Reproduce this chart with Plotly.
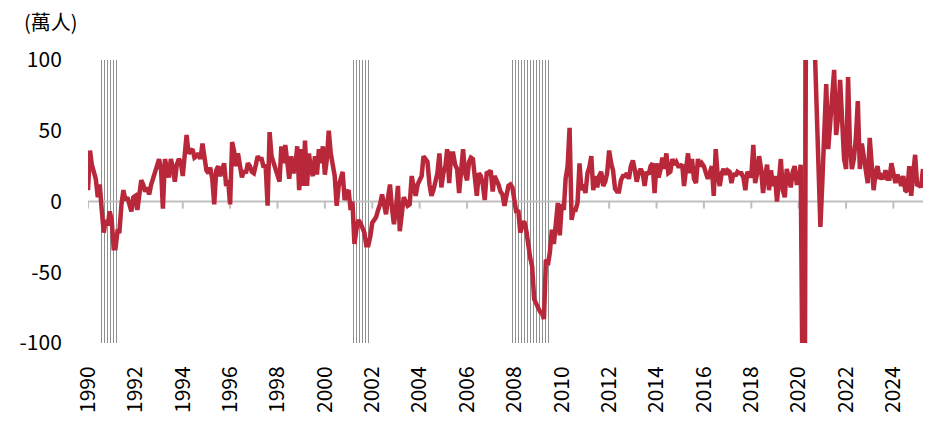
import pandas as pd
import plotly.graph_objects as go

# Monthly change (萬人), Jan 1990 - Apr 2025
v1990 = [8, 36, 26, 20, 16, 3, 12, -6, -22, -13, -17, -7]
v1991 = [-13, -33, -33, -21, -21, -2, 8, 1, 3, -2, -7, 3]
v1992 = [4, -6, 7, 15, 12, 7, 10, 5, 12, 17, 22, 25]
v1993 = [30, 22, -5, 30, 22, 17, 30, 24, 14, 26, 30, 28]
v1994 = [18, 30, 47, 34, 36, 37, 31, 32, 34, 30, 41, 33]
v1995 = [22, 20, 24, 16, -2, 22, 25, 18, 22, 27, 11, 15]
v1996 = [-2, 42, 36, 25, 34, 26, 17, 22, 20, 27, 25, 21]
v1997 = [20, 26, 32, 30, 30, 24, 26, -3, 49, 32, 28, 23]
v1998 = [18, 14, 39, 27, 40, 24, 16, 32, 20, 24, 39, 8]
v1999 = [37, 11, 43, 11, 34, 22, 18, 32, 19, 37, 27, 39]
v2000 = [19, 30, 50, 34, 25, 18, -3, 11, 16, 21, 1, 6]
v2001 = [8, -6, 0, -30, -20, -13, -15, -18, -22, -31, -31, -25]
v2002 = [-15, -13, -11, -6, -2, 5, -2, -9, 3, 12, -5, -16]
v2003 = [-5, 11, -21, -10, 3, 0, -3, -2, 18, 10, 4, 12]
v2004 = [15, 18, 32, 30, 28, 12, 4, 8, 13, 20, 34, 10]
v2005 = [20, 25, 37, 13, 34, 34, 26, 23, 6, 18, 37, 20]
v2006 = [15, 28, 31, 30, 14, 4, 20, 18, 12, 1, 21, 20]
v2007 = [22, 7, 18, 15, 12, 7, 5, -3, 6, 11, 12, 10]
v2008 = [1, -8, -6, -22, -17, -14, -20, -32, -40, -46, -69, -72]
v2009 = [-76, -78, -79, -83, -41, -45, -36, -20, -30, -17, -1, -24]
v2010 = [-2, -6, 16, 25, 52, -13, -6, -6, -1, 27, 8, 12]
v2011 = [6, 20, 24, 32, 8, 18, 10, 18, 21, 11, 14, 20]
v2012 = [36, 27, 22, 9, 7, 7, 15, 18, 18, 20, 16, 25]
v2013 = [29, 22, 14, 20, 23, 20, 11, 21, 19, 25, 27, 6]
v2014 = [27, 17, 22, 31, 23, 34, 20, 21, 30, 26, 28, 25]
v2015 = [25, 26, 11, 23, 34, 20, 30, 16, 13, 30, 25, 27]
v2016 = [25, 20, 16, 20, 25, 4, 37, 18, 11, 20, 23, 19]
v2017 = [22, 21, 13, 20, 18, 21, 20, 20, 17, 8, 21, 18]
v2018 = [18, 40, 13, 20, 32, 23, 6, 18, 26, 8, 22, 11]
v2019 = [18, 0, 19, 30, 8, 3, 23, 16, 10, 21, 25, 13]
v2020 = [13, 26, -137, -205, 270, 480, 170, 150, 115, 68, 26, -18]
v2021 = [15, 48, 83, 37, 55, 75, 93, 47, 60, 86, 50, 30]
v2022 = [23, 88, 40, 23, 30, 45, 71, 23, 41, 30, 20, 13]
v2023 = [45, 30, 8, 20, 25, 16, 18, 16, 22, 16, 16, 27]
v2024 = [20, 13, 19, 16, 11, 18, 8, 7, 25, 4, 20, 33]
v2025 = [11, 12, 10, 23]

# Recession periods (first and last month shaded)
recessions = [("1990-07", "1991-03"), ("2001-03", "2001-11"),
              ("2007-12", "2009-06"), ("2020-03", "2020-04")]

y_ticks = [-100, -50, 0, 50, 100]
y_ticktext = [str(v) for v in y_ticks]
x_tick_step = "24MS"   # every two years

values = (v1990 + v1991 + v1992 + v1993 + v1994 + v1995 + v1996 + v1997 + v1998 + v1999
          + v2000 + v2001 + v2002 + v2003 + v2004 + v2005 + v2006 + v2007 + v2008 + v2009
          + v2010 + v2011 + v2012 + v2013 + v2014 + v2015 + v2016 + v2017 + v2018 + v2019
          + v2020 + v2021 + v2022 + v2023 + v2024 + v2025)
dates = pd.date_range("1990-01-01", periods=len(values), freq="MS")
x_range = [dates[0], dates[-1]]
tick_dates = pd.date_range(dates[0], dates[-1], freq=x_tick_step)

ymin, ymax = y_ticks[0], y_ticks[-1]
rec_center, rec_width = [], []
for s, e in recessions:
    t0 = pd.Timestamp(s)
    t1 = pd.Timestamp(e) + pd.offsets.MonthBegin(1)
    rec_center.append(t0 + (t1 - t0) / 2)
    rec_width.append((t1 - t0).total_seconds() * 1000)

FONT = "Noto Sans CJK TC"
AXIS_GRAY = "#bfbfbf"

fig = go.Figure()
# recession shading (vertical hatch)
fig.add_trace(go.Bar(
    x=rec_center, y=[ymax - ymin] * len(rec_center), base=[ymin] * len(rec_center),
    width=rec_width,
    marker=dict(color="rgba(0,0,0,0)", line=dict(width=0),
                pattern=dict(shape="|", size=3, solidity=1 / 3,
                             fgcolor="#8f8f8f", bgcolor="rgba(0,0,0,0)",
                             fgopacity=1)),
    hoverinfo="skip", showlegend=False))
# zero axis line
fig.add_trace(go.Scatter(x=x_range, y=[0, 0], mode="lines",
                         line=dict(color=AXIS_GRAY, width=2),
                         hoverinfo="skip", showlegend=False))
# tick marks hanging below the zero axis
fig.add_trace(go.Scatter(x=tick_dates, y=[0] * len(tick_dates), mode="markers",
                         marker=dict(size=0.1, color=AXIS_GRAY),
                         error_y=dict(type="data", symmetric=False,
                                      array=[0] * len(tick_dates),
                                      arrayminus=[5] * len(tick_dates),
                                      color=AXIS_GRAY, thickness=2, width=0),
                         hoverinfo="skip", showlegend=False))
# data line
fig.add_trace(go.Scatter(x=dates, y=values, mode="lines",
                         line=dict(color="#B8283A", width=4.5),
                         showlegend=False))

fig.update_layout(
    width=938, height=421,
    margin=dict(l=78, r=23, t=52, b=86),
    paper_bgcolor="white", plot_bgcolor="white",
    font=dict(family=FONT, color="#000000"),
    bargap=0,
    xaxis=dict(type="date", range=x_range, tick0="1990-01-01", dtick="M24",
               tickformat="%Y", tickangle=-90, ticks="outside", ticklen=14,
               tickcolor="rgba(0,0,0,0)", showgrid=False,
               zeroline=False, showline=False,
               tickfont=dict(size=21, family=FONT, color="#000")),
    yaxis=dict(range=[ymin, ymax], tickvals=y_ticks, ticktext=y_ticktext,
               showgrid=False, zeroline=False, showline=False,
               ticks="outside", ticklen=21, tickcolor="rgba(0,0,0,0)",
               tickfont=dict(size=21, family=FONT, color="#000")),
    annotations=[dict(text="(萬人)", xref="paper", yref="paper",
                      x=(20 - 86) / 837, y=(343 - 22) / 283,
                      xanchor="left", yanchor="middle", showarrow=False,
                      font=dict(size=20, family=FONT, color="#000"))],
)

fig.write_html("out.html")
